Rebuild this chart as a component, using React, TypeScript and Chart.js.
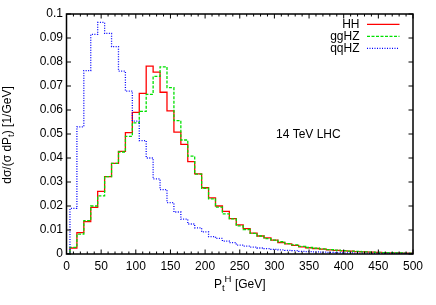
import React, { useEffect, useRef } from 'react';
import { Chart, registerables } from 'chart.js';

Chart.register(...registerables);

// ---- data (bin centres in GeV, histogram values in 1/GeV) ----
const ptBins = [0, 10, 20, 30, 40, 50, 60, 70, 80, 90, 100, 110, 120, 130, 140, 150, 160, 170, 180, 190, 200, 210, 220, 230, 240, 250, 260, 270, 280, 290, 300, 310, 320, 330, 340, 350, 360, 370, 380, 390, 400, 410, 420, 430, 440, 450, 460, 470, 480, 490, 500];

const hhValues = [0, 0.0025, 0.0089, 0.0135, 0.0194, 0.0261, 0.0322, 0.0378, 0.0428, 0.0506, 0.059, 0.0669, 0.0783, 0.0758, 0.0674, 0.0596, 0.0508, 0.0457, 0.0385, 0.0334, 0.0276, 0.0234, 0.02, 0.0178, 0.0147, 0.0121, 0.0106, 0.0087, 0.0075, 0.0067, 0.0058, 0.0048, 0.0042, 0.0036, 0.003, 0.0026, 0.0023, 0.002, 0.0017, 0.0015, 0.0013, 0.0012, 0.001, 0.0009, 0.0008, 0.0007, 0.0006, 0.0005, 0.0005, 0.0004, 0.0004];

const gghzValues = [0, 0.0028, 0.0083, 0.0139, 0.02, 0.0242, 0.0322, 0.0378, 0.0425, 0.049, 0.0546, 0.0594, 0.0665, 0.074, 0.078, 0.0693, 0.0556, 0.0475, 0.0408, 0.0333, 0.0274, 0.023, 0.0195, 0.0167, 0.0146, 0.0117, 0.0102, 0.0086, 0.0075, 0.0064, 0.0058, 0.0051, 0.0043, 0.0038, 0.0032, 0.0027, 0.0024, 0.0021, 0.0018, 0.0016, 0.0014, 0.0012, 0.0011, 0.0009, 0.0008, 0.0007, 0.0006, 0.0006, 0.0005, 0.0004, 0.0004];

const qqhzValues = [0, 0.019, 0.053, 0.0764, 0.0915, 0.0965, 0.0919, 0.0864, 0.0762, 0.0679, 0.0554, 0.0472, 0.04, 0.0313, 0.0268, 0.0214, 0.0175, 0.0145, 0.0125, 0.0109, 0.0092, 0.0072, 0.0065, 0.0054, 0.0047, 0.0037, 0.0033, 0.0029, 0.0025, 0.0022, 0.0019, 0.0017, 0.0015, 0.0014, 0.0011, 0.001, 0.0009, 0.0008, 0.0007, 0.0006, 0.0005, 0.0005, 0.0004, 0.0004, 0.0003, 0.0003, 0.0003, 0.0002, 0.0002, 0.0002, 0.0002];

const seriesNames = ['HH', 'ggHZ', 'qqHZ'];

const xTicks = [0, 50, 100, 150, 200, 250, 300, 350, 400, 450, 500];
const xTickLabels = ['0', '50', '100', '150', '200', '250', '300', '350', '400', '450', '500'];
const xMinorTicks = [10, 20, 30, 40, 60, 70, 80, 90, 110, 120, 130, 140, 160, 170, 180, 190, 210, 220, 230, 240, 260, 270, 280, 290, 310, 320, 330, 340, 360, 370, 380, 390, 410, 420, 430, 440, 460, 470, 480, 490];
const yTicks = [0, 0.01, 0.02, 0.03, 0.04, 0.05, 0.06, 0.07, 0.08, 0.09, 0.1];
const yTickLabels = ['0', '0.01', '0.02', '0.03', '0.04', '0.05', '0.06', '0.07', '0.08', '0.09', '0.1'];

const annotationText = '14 TeV LHC';

const FONT = '"Liberation Sans", Arial, Helvetica, sans-serif';

type Part = { t: string; size: number; dy: number };

function drawParts(ctx: CanvasRenderingContext2D, parts: Part[], x: number, y: number, align: 'center' | 'left') {
  let total = 0;
  const widths = parts.map((p) => {
    ctx.font = `${p.size}px ${FONT}`;
    const w = ctx.measureText(p.t).width;
    total += w;
    return w;
  });
  let cx = align === 'center' ? x - total / 2 : x;
  ctx.textAlign = 'left';
  ctx.textBaseline = 'alphabetic';
  parts.forEach((p, i) => {
    ctx.font = `${p.size}px ${FONT}`;
    ctx.fillText(p.t, cx, y + p.dy);
    cx += widths[i];
  });
}

const frameLook = {
  id: 'frameLook',
  afterDraw(chart: any) {
    const ctx: CanvasRenderingContext2D = chart.ctx;
    const xs = chart.scales.x;
    const ys = chart.scales.y;
    const a = chart.chartArea;
    ctx.save();
    ctx.strokeStyle = '#000';
    ctx.fillStyle = '#000';

    // ticks
    ctx.lineWidth = 1;
    ctx.beginPath();
    xTicks.forEach((v) => {
      const px = xs.getPixelForValue(v);
      ctx.moveTo(px, a.bottom); ctx.lineTo(px, a.bottom - 4.5);
      ctx.moveTo(px, a.top); ctx.lineTo(px, a.top + 4.5);
    });
    xMinorTicks.forEach((v) => {
      const px = xs.getPixelForValue(v);
      ctx.moveTo(px, a.bottom); ctx.lineTo(px, a.bottom - 2.5);
      ctx.moveTo(px, a.top); ctx.lineTo(px, a.top + 2.5);
    });
    yTicks.forEach((v) => {
      const py = ys.getPixelForValue(v);
      ctx.moveTo(a.left, py); ctx.lineTo(a.left + 4.5, py);
      ctx.moveTo(a.right, py); ctx.lineTo(a.right - 4.5, py);
    });
    ctx.stroke();

    // border
    ctx.lineWidth = 1.5;
    ctx.strokeRect(a.left, a.top, a.right - a.left, a.bottom - a.top);

    // tick labels
    ctx.font = `12px ${FONT}`;
    ctx.textAlign = 'right';
    ctx.textBaseline = 'middle';
    yTicks.forEach((v, i) => {
      ctx.fillText(yTickLabels[i], a.left - 3.5, ys.getPixelForValue(v));
    });
    ctx.textAlign = 'center';
    xTicks.forEach((v, i) => {
      ctx.fillText(xTickLabels[i], xs.getPixelForValue(v), a.bottom + 13);
    });

    // x title: P_t^H [GeV]
    drawParts(ctx, [
      { t: 'P', size: 12, dy: 0 },
      { t: 't', size: 9.6, dy: 3 },
      { t: 'H', size: 9.6, dy: -6 },
      { t: ' [GeV]', size: 12, dy: 0 },
    ], (a.left + a.right) / 2, a.bottom + 34, 'center');

    // y title
    ctx.save();
    ctx.translate(11, (a.top + a.bottom) / 2 + 1);
    ctx.rotate(-Math.PI / 2);
    drawParts(ctx, [
      { t: 'd\u03c3/(\u03c3 dP', size: 12, dy: 0 },
      { t: 't', size: 9.6, dy: 3 },
      { t: ') [1/GeV]', size: 12, dy: 0 },
    ], 0, 0, 'center');
    ctx.restore();

    // legend
    const ds = chart.data.datasets;
    seriesNames.forEach((name, i) => {
      const y = a.top + 10.3 + i * 12;
      ctx.font = `12px ${FONT}`;
      ctx.textAlign = 'right';
      ctx.textBaseline = 'middle';
      ctx.fillStyle = '#000';
      ctx.fillText(name, 359.5, y);
      ctx.save();
      ctx.strokeStyle = ds[i].borderColor;
      ctx.lineWidth = ds[i].borderWidth;
      ctx.setLineDash(ds[i].borderDash || []);
      ctx.beginPath();
      ctx.moveTo(367, y);
      ctx.lineTo(399.5, y);
      ctx.stroke();
      ctx.restore();
    });

    // annotation
    ctx.font = `12px ${FONT}`;
    ctx.textAlign = 'left';
    ctx.textBaseline = 'middle';
    ctx.fillText(annotationText, 276, 134.3);

    ctx.restore();
  },
};

export default function App() {
  const ref = useRef<HTMLCanvasElement | null>(null);

  useEffect(() => {
    const canvas = ref.current;
    if (!canvas) return;
    const mk = (vals: number[]) => ptBins.map((x, i) => ({ x, y: vals[i] }));
    const chart = new Chart(canvas, {
      type: 'line',
      data: {
        datasets: [
          { label: seriesNames[0], data: mk(hhValues), borderColor: '#ff0000', borderWidth: 1.3, stepped: 'middle', pointRadius: 0, fill: false, order: 3 },
          { label: seriesNames[1], data: mk(gghzValues), borderColor: '#00e000', borderWidth: 1.3, borderDash: [3, 1.5], stepped: 'middle', pointRadius: 0, fill: false, order: 2 },
          { label: seriesNames[2], data: mk(qqhzValues), borderColor: '#0000ff', borderWidth: 1.3, borderDash: [1, 1.5], stepped: 'middle', pointRadius: 0, fill: false, order: 1 },
        ] as any,
      },
      options: {
        animation: false,
        responsive: false,
        devicePixelRatio: 1,
        events: [],
        layout: { padding: { left: 66.5, right: 23, top: 14, bottom: 51 } },
        plugins: { legend: { display: false }, tooltip: { enabled: false } },
        scales: {
          x: { type: 'linear', min: 0, max: 500, display: false },
          y: { type: 'linear', min: 0, max: 0.1, display: false },
        },
      } as any,
      plugins: [frameLook],
    });
    return () => chart.destroy();
  }, []);

  return (
    <div style={{ position: 'absolute', left: 0, top: 0, width: 436, height: 305, background: '#fff' }}>
      <canvas ref={ref} width={436} height={305} style={{ display: 'block', width: 436, height: 305 }} />
    </div>
  );
}
